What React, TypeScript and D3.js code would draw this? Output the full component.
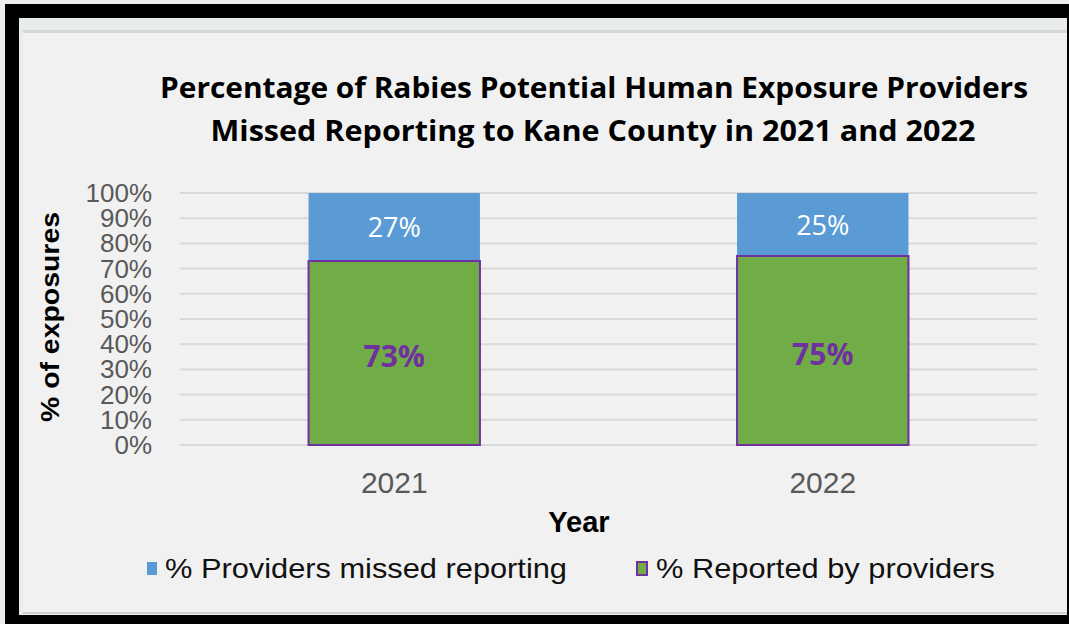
import React from "react";
import * as d3 from "d3";

const years = ["2021", "2022"];
const reported = [73, 75];
const missed = [27, 25];
const yTicks = [0, 10, 20, 30, 40, 50, 60, 70, 80, 90, 100];
const titleLines = [
  "Percentage of Rabies Potential Human Exposure Providers",
  "Missed Reporting to Kane County in 2021 and 2022",
];
const legendItems = ["% Providers missed reporting", "% Reported by providers"];

const W = 1069;
const H = 624;
const BLUE = "#5b9bd5";
const GREEN = "#70ad47";
const PURPLE = "#7030a0";

export default function App() {
  const x = d3
    .scaleBand<string>()
    .domain(years)
    .range([180, 1037])
    .paddingInner(0.6)
    .paddingOuter(0.3);
  const y = d3.scaleLinear().domain([0, 100]).range([445, 193]);
  const bw = x.bandwidth();
  const arial = "'Liberation Sans', Arial, sans-serif";
  const cal = "'Open Sans', 'Noto Sans', sans-serif";

  return (
    <svg
      width={W}
      height={H}
      style={{ position: "absolute", left: 0, top: 0, display: "block" }}
    >
      <rect x={0} y={0} width={W} height={H} fill="#eceeee" />
      <rect x={5} y={4} width={W - 5} height={H - 4} fill="#000" />
      <rect x={19} y={18} width={1048} height={597} fill="#e9ecec" />
      <rect x={23} y={30} width={1044} height={3} fill="#d6d6d6" />
      <rect x={23} y={33} width={1044} height={580} fill="#f1f1f1" />
      <rect x={23} y={612} width={1044} height={2} fill="#cfcfcf" />

      {/* title */}
      <text
        x={594}
        y={98}
        textAnchor="middle"
        fontFamily={cal}
        fontWeight="bold"
        fontSize={28}
        fill="#000"
        textLength={868}
        lengthAdjust="spacingAndGlyphs"
      >
        {titleLines[0]}
      </text>
      <text
        x={593}
        y={141}
        textAnchor="middle"
        fontFamily={cal}
        fontWeight="bold"
        fontSize={28}
        fill="#000"
        textLength={765}
        lengthAdjust="spacingAndGlyphs"
      >
        {titleLines[1]}
      </text>

      {/* gridlines */}
      {yTicks.map((t) => (
        <line
          key={"g" + t}
          x1={180}
          x2={1037}
          y1={y(t)}
          y2={y(t)}
          stroke="#d9d9d9"
          strokeWidth={2}
        />
      ))}
      {/* y tick labels */}
      {yTicks.map((t) => (
        <text
          key={"t" + t}
          x={152}
          y={y(t) + 9}
          textAnchor="end"
          fontFamily={arial}
          fontSize={26}
          fill="#595959"
        >
          {t + "%"}
        </text>
      ))}

      {/* bars */}
      {years.map((yr, i) => {
        const x0 = x(yr)!;
        return (
          <g key={yr}>
            <rect
              x={x0}
              y={y(100)}
              width={bw}
              height={y(reported[i]) - y(100)}
              fill={BLUE}
            />
            <rect
              x={x0}
              y={y(reported[i])}
              width={bw}
              height={y(0) - y(reported[i])}
              fill={GREEN}
              stroke={PURPLE}
              strokeWidth={2}
            />
            <text
              x={x0 + bw / 2}
              y={(y(100) + y(reported[i])) / 2 + 10}
              textAnchor="middle"
              fontFamily={cal}
              fontSize={27}
              fill="#fff"
            >
              {missed[i] + "%"}
            </text>
            <text
              x={x0 + bw / 2}
              y={(y(0) + y(reported[i])) / 2 + 14}
              textAnchor="middle"
              fontFamily={cal}
              fontWeight="bold"
              fontSize={30}
              fill={PURPLE}
            >
              {reported[i] + "%"}
            </text>
            <text
              x={x0 + bw / 2}
              y={493}
              textAnchor="middle"
              fontFamily={arial}
              fontSize={30}
              fill="#595959"
            >
              {yr}
            </text>
          </g>
        );
      })}

      {/* axis titles */}
      <text
        x={579}
        y={532}
        textAnchor="middle"
        fontFamily={arial}
        fontWeight="bold"
        fontSize={29}
        fill="#000"
      >
        Year
      </text>
      <text
        transform="translate(59,317) rotate(-90)"
        textAnchor="middle"
        fontFamily={arial}
        fontWeight="bold"
        fontSize={26}
        fill="#000"
        textLength={210}
        lengthAdjust="spacingAndGlyphs"
      >
        % of exposures
      </text>

      {/* legend */}
      <rect x={147} y={562} width={10} height={13} fill={BLUE} />
      <text
        x={165}
        y={578}
        fontFamily={arial}
        fontSize={28}
        fill="#111"
        textLength={402}
        lengthAdjust="spacingAndGlyphs"
      >
        {legendItems[0]}
      </text>
      <rect
        x={637}
        y={562}
        width={10}
        height={13}
        fill={GREEN}
        stroke={PURPLE}
        strokeWidth={2}
      />
      <text
        x={656}
        y={578}
        fontFamily={arial}
        fontSize={28}
        fill="#111"
        textLength={339}
        lengthAdjust="spacingAndGlyphs"
      >
        {legendItems[1]}
      </text>
    </svg>
  );
}
